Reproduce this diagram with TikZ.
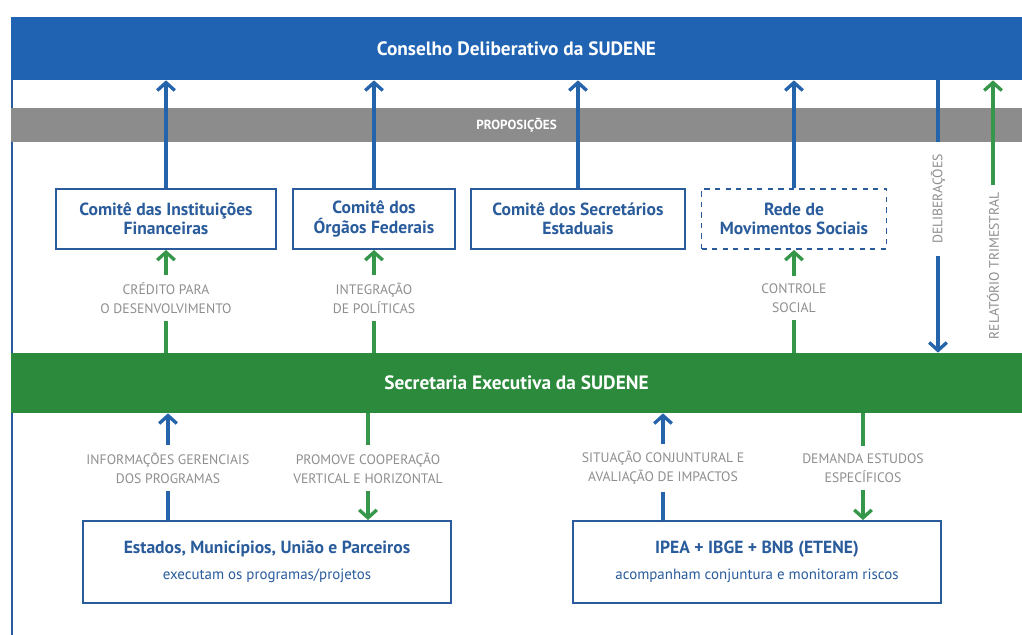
\documentclass[tikz,border=0pt]{standalone}
\usepackage{fontspec}
\setmainfont{PT Sans}
\usetikzlibrary{arrows.meta,positioning}
\definecolor{conselhoColor}{HTML}{1F63B2}
\definecolor{secretariaColor}{HTML}{2B8A3B}
\definecolor{proposicaoColor}{HTML}{8C8C8C}
\definecolor{comiteColor}{HTML}{2A5C9C}
\definecolor{legendaColor}{HTML}{8E8E8E}
\definecolor{fluxoAzulColor}{HTML}{2563AA}
\definecolor{fluxoVerdeColor}{HTML}{36964A}

\begin{document}
\begin{tikzpicture}[%
    x=0.02cm,y=-0.02cm,>={Straight Barb[length=4.5pt,width=10pt]},align=center]
    \useasboundingbox (0,0) rectangle (1022,635);
    \tikzstyle{band}=[rectangle,minimum width=20.22cm,text=white,%
      font=\bfseries\fontsize{11}{13}\selectfont]
    % All band and box styles
    \tikzstyle{conselho}=[band,fill=conselhoColor,minimum height=1.26cm]
    \tikzstyle{secretaria}=[band,fill=secretariaColor,minimum height=1.2cm]
    \tikzstyle{proposicao}=[band,fill=proposicaoColor,minimum height=0.68cm,%
      font=\bfseries\fontsize{7.5}{9}\selectfont]
    \tikzstyle{comite}=[rectangle,draw=comiteColor,line width=1.1pt,fill=white,%
      text=comiteColor,minimum height=1.2cm,font=\bfseries\fontsize{10}{11}\selectfont]
    \tikzstyle{rede}=[comite,dashed]
    \tikzstyle{parceiro}=[comite,minimum width=7.36cm,minimum height=1.64cm]
    \tikzstyle{legenda}=[text=legendaColor,font=\fontsize{7.8}{11}\selectfont,%
      inner xsep=1pt,inner ysep=4pt]
    \tikzstyle{vertical}=[legenda,fill=white,rotate=90,inner xsep=6pt,inner ysep=3pt]
    \tikzstyle{azul}=[draw=fluxoAzulColor,line width=1.9pt]
    \tikzstyle{verde}=[draw=fluxoVerdeColor,line width=1.9pt]
    % Frame
    \coordinate (topo) at (12,80);
    \coordinate (rodape) at (12,635);
    \draw [comiteColor,line width=0.9pt] (topo) -- (rodape);
    % All bands
    \node (conselho) [conselho] at (516.5,48.5) {Conselho Deliberativo da SUDENE};
    \node (proposicoes) [proposicao] at (516.5,125) {PROPOSIÇÕES};
    \node (secretaria) [secretaria] at (516.5,383) {Secretaria Executiva da SUDENE};
    % All committees
    \node (financeiras) [comite,minimum width=4.4cm] at (166,219) {Comitê das Instituições\\Financeiras};
    \node (federais) [comite,minimum width=3.24cm] at (374,219) {Comitê dos\\Órgãos Federais};
    \node (secretarios) [comite,minimum width=4.28cm] at (578,219) {Comitê dos Secretários\\Estaduais};
    \node (movimentos) [rede,minimum width=3.7cm] at (794,219) {Rede de\\Movimentos Sociais};
    % All partners
    \node (estados) [parceiro] at (267,562) {Estados, Municípios, União e Parceiros\\[4pt]%
      {\mdseries\fontsize{8.5}{10}\selectfont executam os programas/projetos}};
    \node (ipea) [parceiro] at (757,562) {IPEA + IBGE + BNB (ETENE)\\[4pt]%
      {\mdseries\fontsize{8.5}{10}\selectfont acompanham conjuntura e monitoram riscos}};
    % All labels
    \node (credito) [legenda] at (166,298) {CRÉDITO PARA\\O DESENVOLVIMENTO};
    \node (integracao) [legenda] at (374,298) {INTEGRAÇÃO\\DE POLÍTICAS};
    \node (controle) [legenda] at (794,298) {CONTROLE\\SOCIAL};
    \node (informacoes) [legenda] at (168,468) {INFORMAÇÕES GERENCIAIS\\DOS PROGRAMAS};
    \node (cooperacao) [legenda] at (368,468) {PROMOVE COOPERAÇÃO\\VERTICAL E HORIZONTAL};
    \node (conjuntura) [legenda] at (663,468) {SITUAÇÃO CONJUNTURAL E\\AVALIAÇÃO DE IMPACTOS};
    \node (estudos) [legenda] at (863,468) {DEMANDA ESTUDOS\\ESPECÍFICOS};
    \node (deliberacoes) [vertical,inner xsep=7pt] at (938,199) {DELIBERAÇÕES};
    \node (relatorio) [vertical,inner xsep=4pt] at (993,266) {RELATÓRIO TRIMESTRAL};
    % Edges to the council
    \draw [azul,->] (financeiras) -- (financeiras |- conselho.south);
    \draw [azul,->] (federais) -- (federais |- conselho.south);
    \draw [azul,->] (secretarios) -- (secretarios |- conselho.south);
    \draw [azul,->] (movimentos) -- (movimentos |- conselho.south);
    \draw [azul] (deliberacoes |- conselho.south) -- (deliberacoes);
    \draw [azul,->] (deliberacoes) -- (deliberacoes |- secretaria.north);
    \draw [verde,->] (relatorio) -- (relatorio |- conselho.south);
    % Edges from the secretariat
    \draw [verde] (credito |- secretaria.north) -- (credito);
    \draw [verde,->] (credito) -- (financeiras);
    \draw [verde] (integracao |- secretaria.north) -- (integracao);
    \draw [verde,->] (integracao) -- (federais);
    \draw [verde] (controle |- secretaria.north) -- (controle);
    \draw [verde,->] (controle) -- (movimentos);
    % Edges to and from the partners
    \draw [azul] (informacoes |- estados.north) -- (informacoes);
    \draw [azul,->] (informacoes) -- (informacoes |- secretaria.south);
    \draw [verde] (cooperacao |- secretaria.south) -- (cooperacao);
    \draw [verde,->] (cooperacao) -- (cooperacao |- estados.north);
    \draw [azul] (conjuntura |- ipea.north) -- (conjuntura);
    \draw [azul,->] (conjuntura) -- (conjuntura |- secretaria.south);
    \draw [verde] (estudos |- secretaria.south) -- (estudos);
    \draw [verde,->] (estudos) -- (estudos |- ipea.north);
  \end{tikzpicture}
\end{document}
